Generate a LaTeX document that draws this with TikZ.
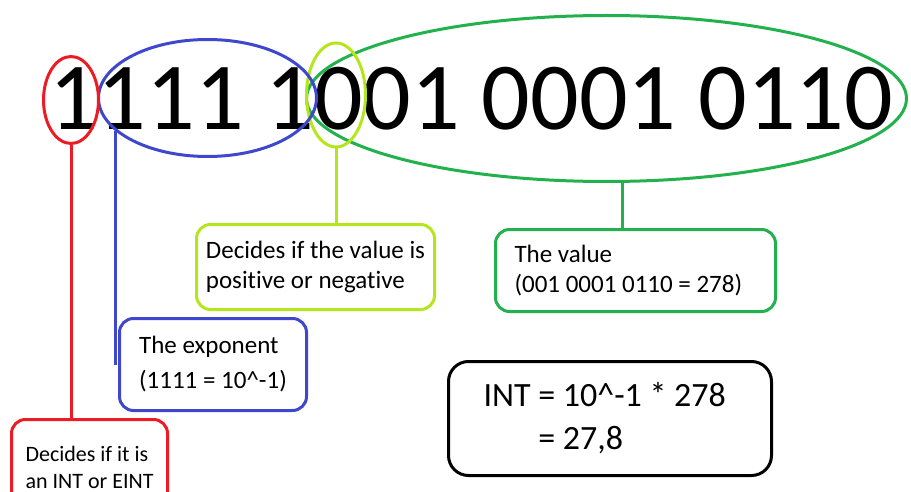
\documentclass[tikz,border=0pt]{standalone}
\usepackage{fontspec}
\setmainfont{Carlito}[Ligatures=CommonOff]
\usetikzlibrary{shapes.geometric,positioning}
\definecolor{sgnred}{RGB}{237,28,36}
\definecolor{expblue}{RGB}{63,72,204}
\definecolor{poslime}{RGB}{181,230,29}
\definecolor{valgreen}{RGB}{34,177,76}

\begin{document}
\begin{tikzpicture}[x=1pt,y=-1pt,
  ring/.style={draw,ellipse,line width=3pt,inner sep=0pt},
  note/.style={draw,rounded corners=14pt,line width=3pt,anchor=north west,align=left,
    font=\fontsize{25}{30}\selectfont,execute at begin node={\spaceskip=0pt\xspaceskip=0pt}},
  link/.style={line width=3pt}]
\useasboundingbox (0,0) rectangle (911,492);
\node[anchor=base west,inner sep=0pt,font=\fontsize{96}{96}\selectfont] (bits) at (49,130) {1111 1001 0001 0110};
% rings round the bit groups
\node[ring,valgreen,minimum width=600,minimum height=166] (val) at (606.5,98.5) {};
\node[ring,poslime,minimum width=59,minimum height=104] (sign) at (336,95) {};
\node[ring,expblue,minimum width=218,minimum height=117] (expo) at (207.5,98) {};
\node[ring,sgnred,minimum width=55,minimum height=87] (sgn) at (71,100) {};
% explanations
\node[note,poslime,text=black,minimum width=238,minimum height=85,text depth=4pt] (posbox) at (195,223) {Decides if the value is\\positive or negative};
\node[note,valgreen,text=black,minimum height=82,inner xsep=19pt,text width=242pt] (valbox) at (494,228) {The value\\(001 0001 0110 = 278)};
\node[note,expblue,text=black,minimum width=187,minimum height=92,font=\fontsize{25}{35}\selectfont] (expbox) at (118,317) {The exponent\\(1111 = 10\textasciicircum-1)};
\node[note,sgnred,text=black,minimum width=156,minimum height=95,font=\fontsize{22}{27}\selectfont] (intbox) at (10,418) {Decides if it is\\an INT or EINT};
\node[note,black,rounded corners=20pt,minimum height=114,inner xsep=35pt,text width=253pt,font=\fontsize{34}{43}\selectfont] (resbox) at (447,360) {INT = 10\textasciicircum-1 * 278\\\phantom{INT }= 27,8};
\draw[link,sgnred] (sgn.south) -- (sgn.south |- intbox.north);
\draw[link,expblue] (expo.200) -- (expo.200 |- expbox.west);
\draw[link,poslime] (sign.south) -- (sign.south |- posbox.north);
\draw[link,valgreen] (val.281) -- (val.281 |- valbox.north);
\end{tikzpicture}
\end{document}
